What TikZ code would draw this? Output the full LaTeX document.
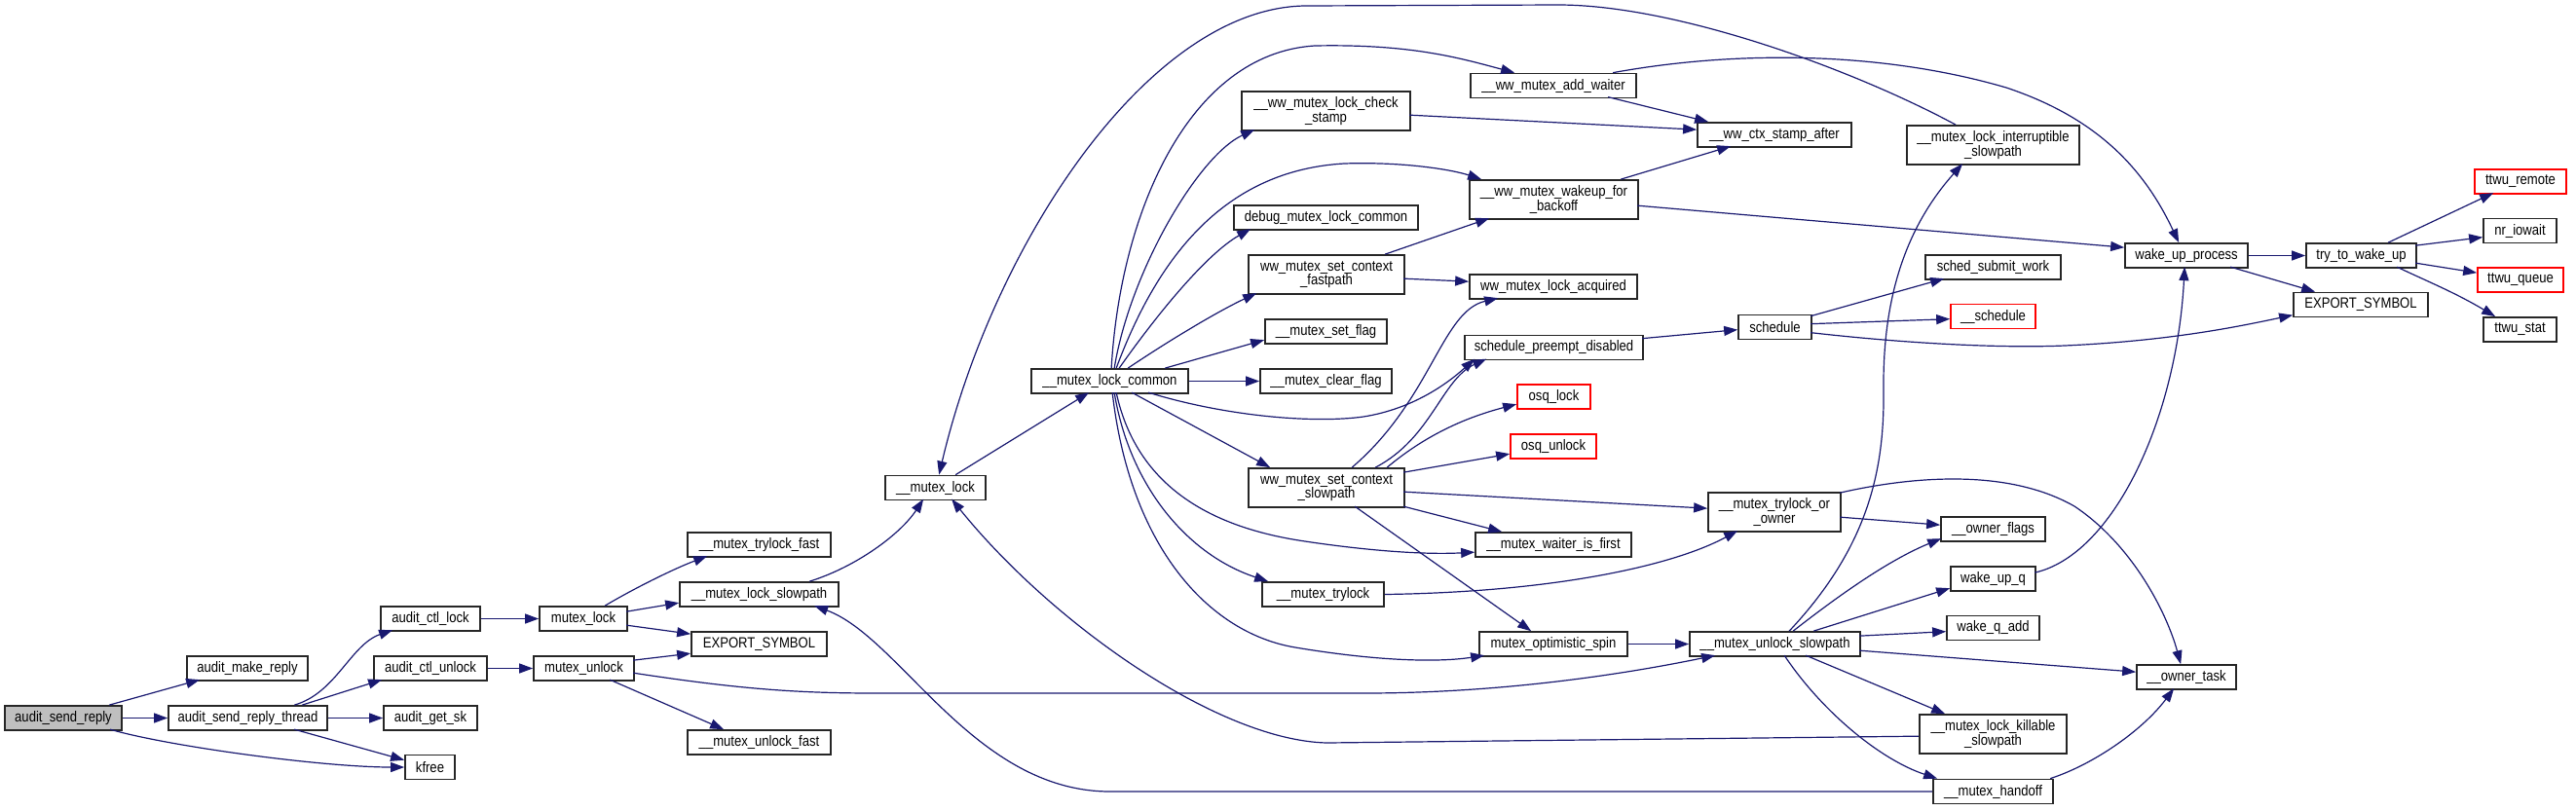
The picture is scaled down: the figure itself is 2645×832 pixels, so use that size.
\documentclass[tikz,border=0pt]{standalone}
\usepackage{fontspec}
\setmainfont{Liberation Sans}[FakeStretch=0.86]
\usetikzlibrary{arrows.meta}
\definecolor{edgec}{HTML}{191970}
\definecolor{graybox}{HTML}{BFBFBF}
\newcommand{\nodefont}{\fontsize{7.6pt}{7.1pt}\selectfont}
\begin{document}
\begin{tikzpicture}[x=0.5pt,y=-0.5pt,
 box/.style={draw=black!85, line width=0.85pt, fill=white, inner sep=0pt, minimum height=12.5pt, font=\nodefont, align=center},
 tall/.style={minimum height=20pt},
 bw/.style={minimum width=#1*0.5pt},
 redb/.style={draw=red},
 curb/.style={fill=graybox},
 cl/.style={draw=edgec, line width=0.6pt, -{Triangle[length=7pt,width=5pt]}}]
\useasboundingbox (0,0) rectangle (2645,832);
\fill[white] (0,0) rectangle (2645,832);

% nodes
\node[box,curb,bw=120] (asr) at (65,737.5) {audit\_send\_reply};
\node[box,bw=124] (amr) at (254,686.5) {audit\_make\_reply};
\node[box,bw=163] (asrt) at (254.5,737.5) {audit\_send\_reply\_thread};
\node[box,bw=102] (acl) at (442,635.5) {audit\_ctl\_lock};
\node[box,bw=116] (acu) at (442,686.5) {audit\_ctl\_unlock};
\node[box,bw=96] (ags) at (442,737.5) {audit\_get\_sk};
\node[box,bw=51] (kfree) at (441.5,788) {kfree};
\node[box,bw=90] (ml) at (599,635.5) {mutex\_lock};
\node[box,bw=103] (mu) at (599.5,686.5) {mutex\_unlock};
\node[box,bw=147] (mtf) at (779.5,559.5) {\_\_mutex\_trylock\_fast};
\node[box,bw=163] (mls) at (779.5,610.5) {\_\_mutex\_lock\_slowpath};
\node[box,bw=139] (es1) at (779.5,661.5) {EXPORT\_SYMBOL};
\node[box,bw=147] (muf) at (779.5,762.5) {\_\_mutex\_unlock\_fast};
\node[box,bw=103] (mlk) at (960.5,501) {\_\_mutex\_lock};
\node[box,bw=161] (mlc) at (1139.5,391.5) {\_\_mutex\_lock\_common};
\node[box,tall,bw=173] (wcs) at (1361.5,114) {\_\_ww\_mutex\_lock\_check\\\_stamp};
\node[box,bw=189] (dmlc) at (1361.5,223.5) {debug\_mutex\_lock\_common};
\node[box,tall,bw=160] (wscf) at (1362,282) {ww\_mutex\_set\_context\\\_fastpath};
\node[box,bw=125] (msf) at (1361.5,340.5) {\_\_mutex\_set\_flag};
\node[box,bw=135] (mcf) at (1361.5,391.5) {\_\_mutex\_clear\_flag};
\node[box,tall,bw=160] (wscs) at (1362,501) {ww\_mutex\_set\_context\\\_slowpath};
\node[box,bw=125] (mtl) at (1358.5,610.5) {\_\_mutex\_trylock};
\node[box,bw=170] (wma) at (1595,88) {\_\_ww\_mutex\_add\_waiter};
\node[box,tall,bw=173] (wwb) at (1595.5,205) {\_\_ww\_mutex\_wakeup\_for\\\_backoff};
\node[box,bw=172] (wla) at (1595,294.5) {ww\_mutex\_lock\_acquired};
\node[box,bw=183] (spd) at (1595.5,357) {schedule\_preempt\_disabled};
\node[box,redb,bw=75] (osql) at (1595.5,407.5) {osq\_lock};
\node[box,redb,bw=88] (osqu) at (1595,458.5) {osq\_unlock};
\node[box,bw=160] (mwf) at (1595,559.5) {\_\_mutex\_waiter\_is\_first};
\node[box,bw=152] (mos) at (1595,661.5) {mutex\_optimistic\_spin};
\node[box,bw=158] (wcsa) at (1822,138.5) {\_\_ww\_ctx\_stamp\_after};
\node[box,bw=75] (sch) at (1822.5,336) {schedule};
\node[box,tall,bw=136] (mto) at (1822,526) {\_\_mutex\_trylock\_or\\\_owner};
\node[box,bw=175] (mus) at (1822.5,661.5) {\_\_mutex\_unlock\_slowpath};
\node[box,tall,bw=177] (mlis) at (2046.5,149) {\_\_mutex\_lock\_interruptible\\\_slowpath};
\node[box,bw=139] (ssw) at (2046.5,274.5) {sched\_submit\_work};
\node[box,redb,bw=87] (sched) at (2046.5,325) {\_\_schedule};
\node[box,bw=107] (ofl) at (2046.5,543.5) {\_\_owner\_flags};
\node[box,bw=87] (wuq) at (2046.5,594.5) {wake\_up\_q};
\node[box,bw=95] (wqa) at (2046.5,645) {wake\_q\_add};
\node[box,tall,bw=151] (mlks) at (2046.5,754) {\_\_mutex\_lock\_killable\\\_slowpath};
\node[box,bw=123] (mho) at (2046.5,813) {\_\_mutex\_handoff};
\node[box,bw=126] (wup) at (2245,262.5) {wake\_up\_process};
\node[box,bw=102] (ot) at (2245,695.5) {\_\_owner\_task};
\node[box,bw=113] (ttwu) at (2424.5,262.5) {try\_to\_wake\_up};
\node[box,bw=138] (es2) at (2424,313) {EXPORT\_SYMBOL};
\node[box,redb,bw=94] (ttr) at (2588,186.5) {ttwu\_remote};
\node[box,bw=75] (nri) at (2587.5,237) {nr\_iowait};
\node[box,redb,bw=88] (ttq) at (2588,287.5) {ttwu\_queue};
\node[box,bw=75] (tts) at (2587.5,338.5) {ttwu\_stat};

% connectors
\draw[cl] ([shift={(108,0)}]asr.north west) -- ([shift={(14,25)}]amr.north west);
\draw[cl] (asr.east) -- (asrt.west);
\draw[cl] ([shift={(109,25)}]asr.north west) .. controls (170,766) and (330,788) .. (kfree.west);
\draw[cl] ([shift={(130,0)}]asrt.north west) .. controls (345,712) and (360,662) .. ([shift={(13,25)}]acl.north west);
\draw[cl] ([shift={(138,0)}]asrt.north west) -- ([shift={(9,25)}]acu.north west);
\draw[cl] (asrt.east) -- (ags.west);
\draw[cl] ([shift={(130,25)}]asrt.north west) -- ([shift={(0,6)}]kfree.north west);
\draw[cl] (acl.east) -- (ml.west);
\draw[cl] (acu.east) -- (mu.west);
\draw[cl] ([shift={(68,0)}]ml.north west) .. controls (650,605) and (690,585) .. ([shift={(21,25)}]mtf.north west);
\draw[cl] ([shift={(90,6)}]ml.north west) -- ([shift={(0,22)}]mls.north west);
\draw[cl] ([shift={(90,20)}]ml.north west) -- ([shift={(0,3)}]es1.north west);
\draw[cl] ([shift={(103,5)}]mu.north west) -- ([shift={(0,23)}]es1.north west);
\draw[cl] ([shift={(103,18)}]mu.north west) .. controls (760,708) and (820,712) .. (900,712) -- (1400,712) .. controls (1550,712) and (1680,690) .. ([shift={(27,25)}]mus.north west);
\draw[cl] ([shift={(79,25)}]mu.north west) -- ([shift={(38,0)}]muf.north west);
\draw[cl] ([shift={(134,0)}]mls.north west) .. controls (880,582) and (925,548) .. ([shift={(40,25)}]mlk.north west);
\draw[cl] ([shift={(73,0)}]mlk.north west) -- ([shift={(60,25)}]mlc.north west);
\draw[cl] ([shift={(51,0)}]mlis.north west) .. controls (1900,70) and (1720,5) .. (1600,5) -- (1340,6) .. controls (1180,8) and (1020,250) .. ([shift={(56,0)}]mlk.north west);
\draw[cl] ([shift={(0,23)}]mlks.north west) -- (1362,763) .. controls (1250,760) and (1080,640) .. ([shift={(69,25)}]mlk.north west);
\draw[cl] (mho.west) -- (1140,813) .. controls (1000,813) and (925,655) .. ([shift={(139,25)}]mls.north west);
\draw[cl] ([shift={(83,0)}]mlc.north west) .. controls (1150,220) and (1220,55) .. (1350,47) .. controls (1450,45) and (1500,60) .. ([shift={(46,0)}]wma.north west);
\draw[cl] ([shift={(86,0)}]mlc.north west) .. controls (1160,280) and (1230,160) .. ([shift={(14,40)}]wcs.north west);
\draw[cl] ([shift={(88,0)}]mlc.north west) .. controls (1190,260) and (1260,175) .. (1380,168) .. controls (1440,166) and (1490,174) .. ([shift={(13,0)}]wwb.north west);
\draw[cl] ([shift={(91,0)}]mlc.north west) .. controls (1190,320) and (1240,260) .. ([shift={(18,25)}]dmlc.north west);
\draw[cl] ([shift={(100,0)}]mlc.north west) .. controls (1200,350) and (1250,320) .. ([shift={(9,40)}]wscf.north west);
\draw[cl] ([shift={(138,0)}]mlc.north west) -- ([shift={(0,22)}]msf.north west);
\draw[cl] (mlc.east) -- (mcf.west);
\draw[cl] ([shift={(121,25)}]mlc.north west) .. controls (1260,428) and (1350,435) .. (1400,428) .. controls (1450,420) and (1485,395) .. ([shift={(11,25)}]spd.north west);
\draw[cl] ([shift={(104,25)}]mlc.north west) -- ([shift={(23,0)}]wscs.north west);
\draw[cl] ([shift={(88,25)}]mlc.north west) .. controls (1165,490) and (1230,540) .. (1340,556) .. controls (1400,565) and (1460,570) .. ([shift={(0,21)}]mwf.north west);
\draw[cl] ([shift={(86,25)}]mlc.north west) .. controls (1160,500) and (1220,570) .. ([shift={(7,0)}]mtl.north west);
\draw[cl] ([shift={(84,25)}]mlc.north west) .. controls (1160,560) and (1240,650) .. (1330,665) .. controls (1420,680) and (1480,680) .. ([shift={(6,25)}]mos.north west);
\draw[cl] ([shift={(141,0)}]wscf.north west) -- ([shift={(21,40)}]wwb.north west);
\draw[cl] ([shift={(160,25)}]wscf.north west) -- ([shift={(0,8)}]wla.north west);
\draw[cl] ([shift={(107,0)}]wscs.north west) .. controls (1470,410) and (1480,320) .. ([shift={(30,25)}]wla.north west);
\draw[cl] ([shift={(131,0)}]wscs.north west) .. controls (1470,450) and (1480,390) .. ([shift={(23,25)}]spd.north west);
\draw[cl] ([shift={(143,0)}]wscs.north west) .. controls (1460,450) and (1500,430) .. ([shift={(0,21)}]osql.north west);
\draw[cl] ([shift={(160,5)}]wscs.north west) -- ([shift={(0,21)}]osqu.north west);
\draw[cl] ([shift={(160,25)}]wscs.north west) -- ([shift={(0,17)}]mto.north west);
\draw[cl] ([shift={(160,40)}]wscs.north west) -- ([shift={(28,0)}]mwf.north west);
\draw[cl] ([shift={(110,40)}]wscs.north west) -- ([shift={(54,0)}]mos.north west);
\draw[cl] (mtl.east) .. controls (1600,608) and (1720,580) .. ([shift={(31,40)}]mto.north west);
\draw[cl] (mos.east) -- (mus.west);
\draw[cl] ([shift={(142,25)}]wma.north west) -- ([shift={(12,0)}]wcsa.north west);
\draw[cl] ([shift={(173,25)}]wcs.north west) -- ([shift={(0,8)}]wcsa.north west);
\draw[cl] ([shift={(156,0)}]wwb.north west) -- ([shift={(35,25)}]wcsa.north west);
\draw[cl] ([shift={(173,27)}]wwb.north west) -- ([shift={(0,5)}]wup.north west);
\draw[cl] ([shift={(147,0)}]wma.north west) .. controls (1780,52) and (1930,52) .. (2060,90) .. controls (2150,120) and (2200,170) .. ([shift={(56,0)}]wup.north west);
\draw[cl] ([shift={(103,0)}]mus.north west) .. controls (1920,560) and (1935,480) .. (1934,400) .. controls (1933,300) and (1960,230) .. ([shift={(58,40)}]mlis.north west);
\draw[cl] ([shift={(136,26)}]mto.north west) -- ([shift={(0,9)}]ofl.north west);
\draw[cl] ([shift={(136,1)}]mto.north west) .. controls (1960,490) and (2060,480) .. (2130,520) .. controls (2190,560) and (2225,630) .. ([shift={(46,0)}]ot.north west);
\draw[cl] ([shift={(107,0)}]mus.north west) .. controls (1890,610) and (1940,575) .. ([shift={(1,23)}]ofl.north west);
\draw[cl] ([shift={(128,0)}]mus.north west) -- ([shift={(0,23)}]wuq.north west);
\draw[cl] ([shift={(175,5)}]mus.north west) -- ([shift={(0,17)}]wqa.north west);
\draw[cl] ([shift={(175,20)}]mus.north west) -- ([shift={(0,8)}]ot.north west);
\draw[cl] ([shift={(120,25)}]mus.north west) -- ([shift={(27,0)}]mlks.north west);
\draw[cl] ([shift={(98,25)}]mus.north west) .. controls (1870,730) and (1930,780) .. ([shift={(5,0)}]mho.north west);
\draw[cl] ([shift={(87,7)}]wuq.north west) .. controls (2170,570) and (2235,430) .. ([shift={(62,25)}]wup.north west);
\draw[cl] ([shift={(121,0)}]mho.north west) .. controls (2150,785) and (2200,750) .. ([shift={(39,25)}]ot.north west);
\draw[cl] ([shift={(183,4)}]spd.north west) -- ([shift={(0,16)}]sch.north west);
\draw[cl] ([shift={(75,2)}]sch.north west) -- ([shift={(20,25)}]ssw.north west);
\draw[cl] ([shift={(75,10)}]sch.north west) -- ([shift={(0,16)}]sched.north west);
\draw[cl] ([shift={(75,19)}]sch.north west) .. controls (1950,352) and (2050,358) .. (2120,355) .. controls (2230,350) and (2300,335) .. ([shift={(0,24)}]es2.north west);
\draw[cl] (wup.east) -- (ttwu.west);
\draw[cl] ([shift={(109,25)}]wup.north west) -- ([shift={(23,0)}]es2.north west);
\draw[cl] ([shift={(85,0)}]ttwu.north west) -- ([shift={(20,25)}]ttr.north west);
\draw[cl] ([shift={(113,3)}]ttwu.north west) -- ([shift={(0,20)}]nri.north west);
\draw[cl] ([shift={(113,21)}]ttwu.north west) -- ([shift={(0,6)}]ttq.north west);
\draw[cl] ([shift={(94,25)}]ttwu.north west) .. controls (2490,288) and (2520,300) .. ([shift={(13,0)}]tts.north west);
\end{tikzpicture}
\end{document}
